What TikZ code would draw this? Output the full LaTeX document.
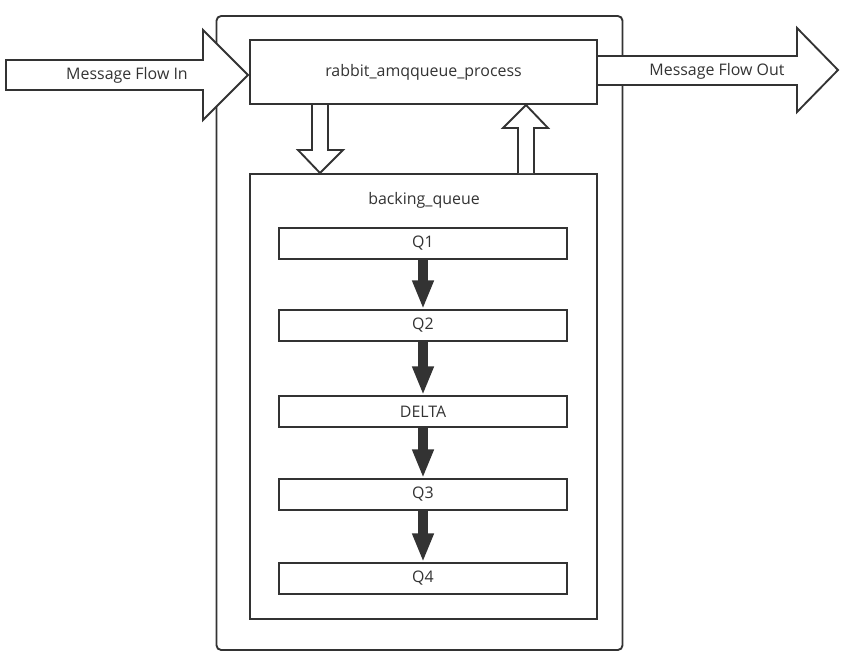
\documentclass[tikz,border=0pt]{standalone}
\usepackage{fontspec}
\setmainfont{Open Sans}
\usetikzlibrary{positioning}
\usetikzlibrary{arrows.meta}
\definecolor{linegray}{HTML}{333333}
\tikzset{
    box/.style = {rectangle, draw=linegray, line width=1.6pt, fill=white, inner sep=0pt},
    qbox/.style = {box, minimum width=8.64cm, minimum height=0.93cm},
    label/.style = {text=linegray, font=\fontsize{13.6}{16}\selectfont, inner sep=0pt},
    blockarrow/.style = {draw=linegray, line width=1.6pt, fill=white, line join=miter},
    edgeq/.style = {-{Triangle[width=17pt,length=24.5pt]}, line width=8.5pt, draw=linegray}
}

\begin{document}
\begin{tikzpicture}[x=0.03cm, y=-0.03cm]
  \useasboundingbox (0,0) rectangle (845,661);

  % outer frame
  \node[box, rounded corners=4pt, minimum width=12.18cm, minimum height=19.02cm] (outer) at (419.5,333) {};

  % process and backing queue
  \node[box, minimum width=10.41cm, minimum height=1.92cm, label] (proc) at (423.5,72) {rabbit\_amqqueue\_process};
  \node[box, minimum width=10.41cm, minimum height=13.35cm] (bq) at (423.5,396.5) {};
  \node[label] (bqlabel) at (424,200) {backing\_queue};

  % queues
  \node[qbox, label] (q1) at (423,243.5) {Q1};
  \node[qbox, label] (q2) at (423,325.5) {Q2};
  \node[qbox, label] (delta) at (423,411.5) {DELTA};
  \node[qbox, label] (q3) at (423,494.5) {Q3};
  \node[qbox, label] (q4) at (423,578.5) {Q4};

  \draw[edgeq] (q1) -- (q2);
  \draw[edgeq] (q2) -- (delta);
  \draw[edgeq] (delta) -- (q3);
  \draw[edgeq] (q3) -- (q4);

  % flow in / out
  \draw[blockarrow] (6,60) -- (203,60) -- (203,30) -- (248,75) -- (203,120) -- (203,90) -- (6,90) -- cycle;
  \node[label] (flowin) at (127,75) {Message Flow In};
  \draw[blockarrow] (598,56) -- (797,56) -- (797,28) -- (838,70) -- (797,112) -- (797,85) -- (598,85);
  \node[label] (flowout) at (717,71) {Message Flow Out};

  % process <-> backing queue
  \draw[blockarrow] (312,105) -- (312,150) -- (298,150) -- (320,173) -- (343,150) -- (328,150) -- (328,105);
  \draw[blockarrow] (518,173) -- (518,128) -- (503,128) -- (526,105) -- (548,128) -- (534,128) -- (534,173);

\end{tikzpicture}
\end{document}
